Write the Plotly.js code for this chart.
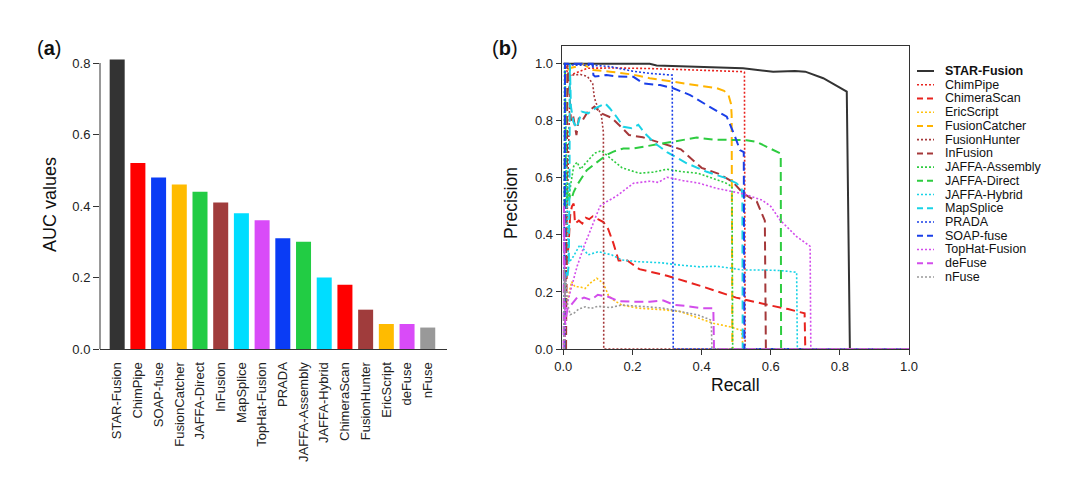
<!DOCTYPE html>
<html><head><meta charset="utf-8">
<script src="https://cdn.plot.ly/plotly-3.0.1.min.js"></script>
<style>html,body{margin:0;padding:0;background:#fff}#chart{width:1073px;height:480px}</style>
</head><body><div id="chart"></div>
<script>
// ---- Panel (a): AUC bar chart data ----
const barCategories = ["STAR-Fusion","ChimPipe","SOAP-fuse","FusionCatcher","JAFFA-Direct","InFusion","MapSplice","TopHat-Fusion","PRADA","JAFFA-Assembly","JAFFA-Hybrid","ChimeraScan","FusionHunter","EricScript","deFuse","nFuse"];
const aucValues = [0.81,0.52,0.48,0.46,0.44,0.41,0.38,0.36,0.31,0.30,0.20,0.18,0.11,0.07,0.07,0.06];
const barYTicks = [0,0.2,0.4,0.6,0.8];

// ---- Panel (b): precision-recall curves ----
const methods = ["STAR-Fusion","ChimPipe","ChimeraScan","EricScript","FusionCatcher","FusionHunter","InFusion","JAFFA-Assembly","JAFFA-Direct","JAFFA-Hybrid","MapSplice","PRADA","SOAP-fuse","TopHat-Fusion","deFuse","nFuse"];
const prTicks = [0,0.2,0.4,0.6,0.8,1.0];

const rec_STAR = [0,0.25,0.27,0.40,0.52,0.607,0.67,0.70,0.752,0.82,0.829,1.0];
const prec_STAR = [1,1,0.994,0.989,0.984,0.972,0.974,0.972,0.949,0.902,0,0];

const rec_ChimPipe = [0.003,0.005,0.015,0.03,0.07,0.15,0.25,0.35,0.45,0.52,0.524,0.526,1.0];
const prec_ChimPipe = [0,1.0,0.955,0.965,0.984,0.985,0.983,0.98,0.975,0.972,0.97,0,0];

const rec_ChimeraScan = [0.005,0.01,0.015,0.02,0.025,0.03,0.034,0.045,0.055,0.065,0.075,0.085,0.1,0.116,0.13,0.145,0.16,0.185,0.22,0.3,0.4,0.5,0.59,0.65,0.698,0.70,1.0];
const prec_ChimeraScan = [0,0.3,0.36,0.47,0.5,0.51,0.44,0.45,0.44,0.46,0.455,0.465,0.455,0.445,0.42,0.37,0.31,0.31,0.28,0.257,0.22,0.18,0.155,0.14,0.125,0,0];

const rec_EricScript = [0.003,0.006,0.012,0.024,0.034,0.048,0.063,0.077,0.097,0.116,0.13,0.145,0.169,0.217,0.294,0.338,0.434,0.482,0.516,0.52,1.0];
const prec_EricScript = [0,0.15,0.17,0.236,0.218,0.218,0.212,0.23,0.248,0.23,0.189,0.172,0.154,0.143,0.137,0.131,0.09,0.078,0.065,0,0];

const rec_FusionCatcher = [0.003,0.006,0.02,0.04,0.053,0.087,0.135,0.2,0.25,0.3,0.347,0.4,0.444,0.465,0.478,0.485,0.487,0.489,1.0];
const prec_FusionCatcher = [0,0.97,0.985,0.99,1.0,0.978,0.972,0.962,0.949,0.94,0.931,0.924,0.914,0.905,0.89,0.86,0.82,0,0];

const rec_FusionHunter = [0.003,0.02,0.05,0.07,0.085,0.09,0.1,0.11,0.116,0.117,1.0];
const prec_FusionHunter = [0,0.96,0.962,0.955,0.93,0.88,0.845,0.82,0.76,0,0];

const rec_InFusion = [0.008,0.012,0.018,0.022,0.028,0.033,0.038,0.045,0.055,0.07,0.09,0.11,0.14,0.17,0.19,0.23,0.27,0.34,0.4,0.45,0.49,0.52,0.56,0.575,0.583,0.586,1.0];
const prec_InFusion = [0,1.0,0.9,0.8,0.82,0.78,0.75,0.81,0.8,0.83,0.85,0.826,0.81,0.775,0.75,0.742,0.727,0.70,0.635,0.614,0.586,0.546,0.516,0.47,0.45,0,0];

const rec_JAFFAAssembly = [0.002,0.004,0.01,0.015,0.022,0.03,0.04,0.05,0.06,0.072,0.09,0.11,0.13,0.17,0.22,0.26,0.3,0.34,0.39,0.435,0.47,0.488,0.49,1.0];
const prec_JAFFAAssembly = [0,1.0,0.6,0.52,0.58,0.64,0.655,0.63,0.645,0.66,0.686,0.695,0.675,0.635,0.616,0.62,0.63,0.622,0.616,0.598,0.582,0.569,0,0];

const rec_JAFFADirect = [0.003,0.005,0.008,0.012,0.016,0.02,0.025,0.03,0.04,0.05,0.068,0.087,0.106,0.125,0.145,0.174,0.203,0.241,0.28,0.338,0.386,0.434,0.482,0.53,0.559,0.588,0.627,0.629,0.63,1.0];
const prec_JAFFADirect = [0,1.0,0.5,0.55,0.52,0.54,0.53,0.55,0.575,0.595,0.627,0.645,0.662,0.68,0.692,0.703,0.703,0.711,0.721,0.732,0.741,0.734,0.732,0.732,0.726,0.708,0.686,0.674,0,0];

const rec_JAFFAHybrid = [0.002,0.004,0.008,0.015,0.029,0.048,0.072,0.101,0.14,0.169,0.217,0.285,0.338,0.395,0.444,0.482,0.521,0.579,0.627,0.675,0.677,1.0];
const prec_JAFFAHybrid = [0,1.0,0.62,0.3,0.324,0.365,0.33,0.341,0.33,0.312,0.306,0.302,0.294,0.288,0.29,0.283,0.277,0.277,0.275,0.269,0,0];

const rec_MapSplice = [0.003,0.008,0.012,0.016,0.018,0.019,0.022,0.029,0.039,0.053,0.072,0.092,0.121,0.135,0.154,0.174,0.198,0.217,0.236,0.265,0.3,0.357,0.415,0.473,0.501,0.516,0.518,0.519,1.0];
const prec_MapSplice = [0.2,0.27,0.25,0.3,0.6,1.0,0.85,0.797,0.775,0.832,0.826,0.843,0.861,0.843,0.814,0.779,0.774,0.786,0.756,0.721,0.69,0.651,0.621,0.598,0.581,0.563,0.534,0,0];

const rec_PRADA = [0.003,0.005,0.03,0.08,0.135,0.2,0.25,0.315,0.318,1.0];
const prec_PRADA = [0,1.0,0.995,0.995,0.99,0.974,0.966,0.96,0,0];

const rec_SOAPfuse = [0.003,0.005,0.085,0.087,0.092,0.125,0.154,0.203,0.231,0.28,0.318,0.367,0.415,0.473,0.497,0.511,0.522,0.524,1.0];
const prec_SOAPfuse = [0,1.0,1.0,0.96,0.955,0.96,0.955,0.954,0.931,0.925,0.914,0.89,0.855,0.814,0.744,0.697,0.69,0,0];

const rec_TopHat = [0.002,0.01,0.02,0.04,0.06,0.08,0.106,0.125,0.154,0.203,0.25,0.275,0.3,0.347,0.39,0.444,0.52,0.575,0.6,0.627,0.675,0.714,0.716,1.0];
const prec_TopHat = [0,0.15,0.2,0.29,0.36,0.42,0.5,0.516,0.536,0.581,0.588,0.584,0.602,0.59,0.582,0.563,0.544,0.522,0.5,0.452,0.394,0.36,0,0];

const rec_deFuse = [0.001,0.002,0.005,0.008,0.012,0.02,0.03,0.04,0.05,0.06,0.08,0.1,0.13,0.16,0.2,0.25,0.29,0.32,0.36,0.4,0.434,0.436,1.0];
const prec_deFuse = [0,0.5,0.09,0.12,0.14,0.15,0.165,0.18,0.175,0.18,0.172,0.19,0.183,0.168,0.166,0.166,0.17,0.155,0.15,0.143,0.143,0,0];

const rec_nFuse = [0.001,0.003,0.005,0.008,0.012,0.02,0.03,0.045,0.063,0.08,0.1,0.135,0.17,0.2,0.24,0.29,0.34,0.39,0.42,0.428,0.43,1.0];
const prec_nFuse = [0,0.28,0.18,0.24,0.16,0.12,0.125,0.14,0.148,0.142,0.15,0.145,0.154,0.152,0.148,0.143,0.131,0.119,0.105,0.1,0,0];

const recallSeries = [rec_STAR,rec_ChimPipe,rec_ChimeraScan,rec_EricScript,rec_FusionCatcher,rec_FusionHunter,rec_InFusion,rec_JAFFAAssembly,rec_JAFFADirect,rec_JAFFAHybrid,rec_MapSplice,rec_PRADA,rec_SOAPfuse,rec_TopHat,rec_deFuse,rec_nFuse];
const precisionSeries = [prec_STAR,prec_ChimPipe,prec_ChimeraScan,prec_EricScript,prec_FusionCatcher,prec_FusionHunter,prec_InFusion,prec_JAFFAAssembly,prec_JAFFADirect,prec_JAFFAHybrid,prec_MapSplice,prec_PRADA,prec_SOAPfuse,prec_TopHat,prec_deFuse,prec_nFuse];

// ---- styles ----
const barColors = ["#333333","#FF0000","#0A3CF5","#FFBB00","#22CC44","#A03C3C","#00DDFF","#D94BF8","#0A3CF5","#22CC44","#00DDFF","#FF0000","#A03C3C","#FFBB00","#D94BF8","#999999"];
const lineColors = ["#333333","#E8231E","#E8231E","#FFC20E","#FFB400","#A5383A","#A5383A","#2ECC40","#2ECC40","#19D3E6","#19D3E6","#1A3FE8","#1A3FE8","#D24DEB","#D24DEB","#999999"];
const lineKinds = ["solid","dot","dash","dot","dash","dot","dash","dot","dash","dot","dash","dot","dash","dot","dash","dot"];

const FONT = "Liberation Sans, Arial, Helvetica, sans-serif";
const W = 1073, H = 480;
const px = v => v / W, py = v => 1 - v / H;
const dashFor = k => k === "solid" ? "solid" : (k === "dash" ? "9px,5px" : "2px,2px");
const widthFor = k => k === "solid" ? 2 : (k === "dash" ? 2 : 1.6);

const traces = [];
traces.push({
  type: "bar", x: barCategories, y: aucValues, xaxis: "x", yaxis: "y",
  marker: {color: barColors, line: {width: 0}}, showlegend: false, hoverinfo: "none"
});
methods.forEach((m, i) => {
  traces.push({
    type: "scatter", mode: "lines", name: m, x: recallSeries[i], y: precisionSeries[i],
    xaxis: "x2", yaxis: "y2", showlegend: false, hoverinfo: "none",
    line: {color: lineColors[i], width: widthFor(lineKinds[i]), dash: dashFor(lineKinds[i]), shape: "linear"}
  });
});

const annotations = [
  {text: "(<b>a</b>)", x: px(49), y: py(48), font: {size: 20}},
  {text: "(<b>b</b>)", x: px(505), y: py(48), font: {size: 20}},
  {text: "AUC values", x: px(50), y: py(205), textangle: -90, font: {size: 18}},
  {text: "Precision", x: px(511), y: py(203), textangle: -90, font: {size: 17.5}},
  {text: "Recall", x: px(735), y: py(385), font: {size: 17.5}}
].map(a => Object.assign({xref: "paper", yref: "paper", showarrow: false, xanchor: "center", yanchor: "middle"}, a, {font: Object.assign({family: FONT, color: "#111"}, a.font)}));

const shapes = [
  // R-style y axis line for panel (a): spans 0 to the last tick only
  {type: "line", xref: "x domain", yref: "y", x0: 0, x1: 0, y0: 0, y1: barYTicks[barYTicks.length - 1], line: {color: "#333", width: 1}}
];

methods.forEach((m, i) => {
  const yy = py(71 + i * 13.73);
  annotations.push({
    text: i === 0 ? "<b>" + m + "</b>" : m, xref: "paper", yref: "paper", x: px(943), y: yy,
    xanchor: "left", yanchor: "middle", showarrow: false, font: {family: FONT, size: 12.5, color: "#111"}
  });
  const k = lineKinds[i];
  shapes.push({
    type: "line", xref: "paper", yref: "paper", x0: px(917), x1: px(934), y0: yy, y1: yy,
    line: {color: lineColors[i], width: widthFor(k), dash: k === "solid" ? "solid" : (k === "dash" ? "6px,4px" : "2px,2px")}
  });
});

const tickFont = {family: FONT, size: 13, color: "#222"};
const layout = {
  width: W, height: H, margin: {l: 0, r: 0, t: 0, b: 0},
  paper_bgcolor: "#fff", plot_bgcolor: "#fff", showlegend: false,
  bargap: 0.275,
  xaxis: {
    domain: [px(100), px(447)], anchor: "y", type: "category", range: [-0.83, 15.93],
    showline: true, linecolor: "#333", linewidth: 1, showgrid: false, zeroline: false,
    ticks: "outside", ticklen: 7, tickcolor: "rgba(0,0,0,0)", tickangle: -90, tickfont: tickFont
  },
  yaxis: {
    domain: [1 - 349 / H, 1 - 55 / H], anchor: "x", range: [0, (349 - 55) / 357.5],
    showline: false, showgrid: false, zeroline: false, tickvals: barYTicks, tickformat: ".1f",
    ticks: "outside", ticklen: 6, tickcolor: "#333", tickfont: tickFont
  },
  xaxis2: {
    domain: [px(561.7), px(909)], anchor: "y2", range: [-0.0046, 1.0],
    showline: true, mirror: true, linecolor: "#333", linewidth: 1, showgrid: false, zeroline: false,
    tickvals: prTicks, tickformat: ".1f", ticks: "outside", ticklen: 5, tickcolor: "#333", tickfont: tickFont
  },
  yaxis2: {
    domain: [1 - 349 / H, 1 - 46 / H], anchor: "x2", range: [0, 1.062],
    showline: true, mirror: true, linecolor: "#333", linewidth: 1, showgrid: false, zeroline: false,
    tickvals: prTicks, tickformat: ".1f", ticks: "outside", ticklen: 5, tickcolor: "#333", tickfont: tickFont
  },
  annotations: annotations,
  shapes: shapes
};

Plotly.newPlot("chart", traces, layout, {staticPlot: true, displayModeBar: false});
</script>
</body></html>
